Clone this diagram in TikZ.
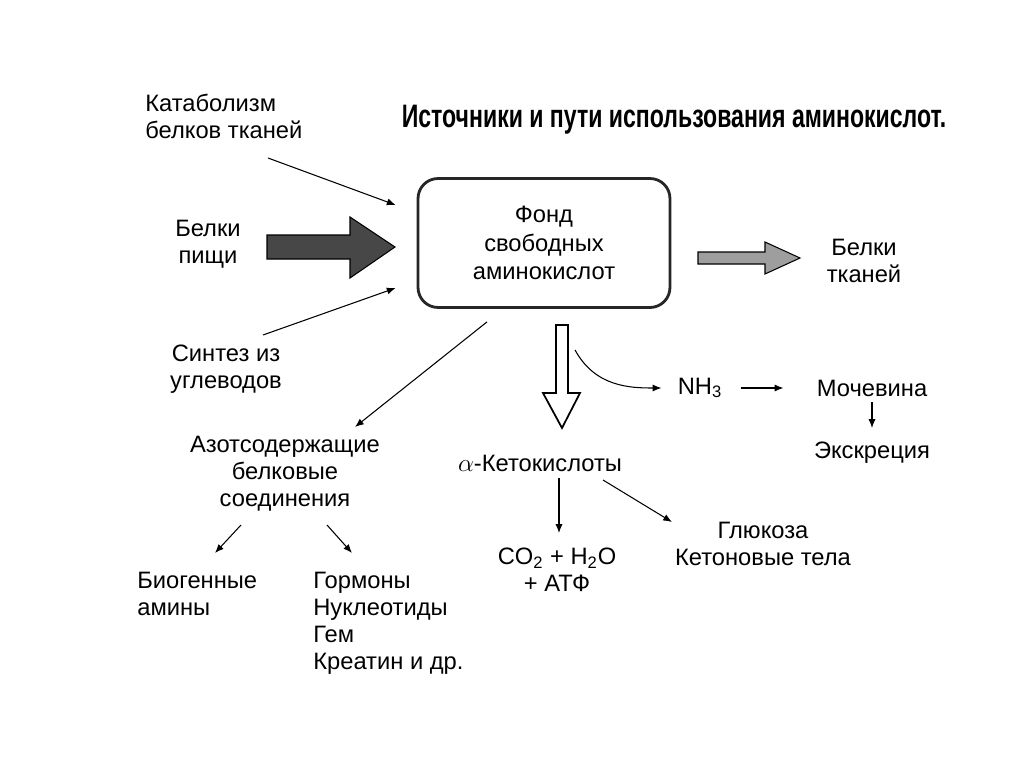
\documentclass[tikz,border=0pt]{standalone}
\usepackage{fontspec}
\setmainfont{Liberation Sans}
\usetikzlibrary{arrows.meta,calc}

\tikzset{
  lbl/.style={font=\fontsize{13.5}{15.4}\selectfont, inner sep=0pt, align=center},
  thinarr/.style={-{Latex[length=5pt,width=4pt]}, line width=0.6pt},
  fondbox/.style={draw=black!85, line width=1.6pt, rounded corners=0.4cm,
    minimum width=5.04cm, minimum height=2.58cm, align=center,
    font=\fontsize{13.5}{16.4}\selectfont},
  bigarr/.style={draw=black, line width=0.6pt},
}

\begin{document}
\begin{tikzpicture}[x=0.02cm,y=-0.02cm]
\useasboundingbox (0,0) rectangle (1024,767);
% Title
\node[font=\bfseries\fontsize{18.5}{20}\selectfont, xscale=0.71, inner sep=0pt] (title) at (674,120)
  {Источники и пути использования аминокислот.};

% Sources
\node[lbl, anchor=west, align=left] (katab) at (145,116) {Катаболизм\\белков тканей};
\node[lbl] (pishcha) at (208,244) {Белки\\пищи};
\node[lbl] (sintez) at (226,369) {Синтез из\\углеводов};

% Pool
\node[fondbox] (fond) at (544,243) {Фонд\\свободных\\аминокислот};
\node[lbl] (tkani) at (864,261) {Белки\\тканей};

% Right branch
\node[lbl] (nh3) at (700,388) {NH\textsubscript{3}};
\node[lbl] (mochev) at (872,388) {Мочевина};
\node[lbl] (ekskr) at (872,453) {Экскреция};

% Lower branches
\node[lbl] (azot) at (285,474) {Азотсодержащие\\белковые\\соединения};
\node[lbl] (keto) at (540,463) {$\alpha$-Кетокислоты};
\node[lbl] (co2) at (557,570) {CO\textsubscript{2} + H\textsubscript{2}O\\+ АТФ};
\node[lbl] (gluk) at (763,544) {Глюкоза\\Кетоновые тела};
\node[lbl, anchor=west, align=left] (biogen) at (137,594) {Биогенные\\амины};
\node[lbl, anchor=west, align=left] (gorm) at (313,623) {Гормоны\\Нуклеотиды\\Гем\\Креатин и др.};

% Block arrows
\filldraw[bigarr, fill=black!72] (267,235) -- (350,235) -- (350,217) -- (395,247)
  -- (350,278) -- (350,259) -- (267,259) -- cycle;
\filldraw[bigarr, fill=black!38] (698,252) -- (765,252) -- (765,242) -- (800,258)
  -- (765,274) -- (765,264) -- (698,264) -- cycle;
\filldraw[bigarr, fill=white, line width=1pt] (556,325) -- (568,325) -- (568,393)
  -- (580,393) -- (562,428) -- (543,393) -- (556,393) -- cycle;

% Thin arrows
\draw[thinarr] ($(katab.west)+(123,42)$) -- ($(fond.west)+(-21,-38)$);
\draw[thinarr] ($(sintez)+(37,-34)$) -- ($(fond.west)+(-21,45)$);
\draw[thinarr] ($(fond.south)+(-57,13)$) -- ($(azot)+(70,-47)$);
\draw[thinarr] ($(fond.south)+(31,41)$) .. controls ($(fond.south)+(51,78)$)
  and ($(nh3)+(-70,0)$) .. ($(nh3.west)+(-16,0)$);
\draw[thinarr] ($(nh3.east)+(18,0)$) -- ($(mochev.west)+(-33,0)$);
\draw[thinarr] ($(mochev)+(0,14)$) -- ($(ekskr)+(0,-25)$);
\draw[thinarr] ($(keto)+(19,15)$) -- ($(co2)+(2,-37)$);
\draw[thinarr] ($(keto)+(63,17)$) -- ($(gluk)+(-91,-22)$);
\draw[thinarr] ($(azot)+(-44,51)$) -- ($(azot)+(-70,79)$);
\draw[thinarr] ($(azot)+(42,51)$) -- ($(azot)+(67,79)$);
\end{tikzpicture}
\end{document}
